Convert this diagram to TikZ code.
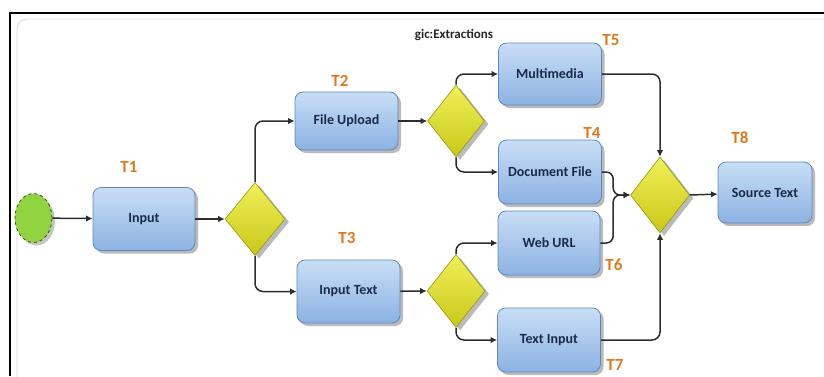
\documentclass[tikz,border=0pt]{standalone}
\usepackage{fontspec}
\setmainfont{Carlito}
\usetikzlibrary{shapes.geometric,shadows,arrows.meta}
\definecolor{boxtop}{RGB}{200,222,246}
\definecolor{boxbot}{RGB}{140,178,226}
\definecolor{boxline}{RGB}{95,135,190}
\definecolor{boxtext}{RGB}{28,42,74}
\definecolor{diatop}{RGB}{240,240,90}
\definecolor{diabot}{RGB}{200,200,25}
\definecolor{dialine}{RGB}{150,150,20}
\definecolor{startfill}{RGB}{145,210,65}
\definecolor{startline}{RGB}{40,90,20}
\definecolor{tcol}{RGB}{226,120,30}
\definecolor{conncol}{RGB}{45,45,45}
\tikzset{
  stepbox/.style={rectangle, rounded corners=8pt, draw=boxline, line width=0.8pt,
    top color=boxtop, bottom color=boxbot,
    drop shadow={shadow xshift=3pt, shadow yshift=-3pt, fill=black!45, opacity=0.6},
    font=\fontsize{14}{16}\selectfont\bfseries, text=boxtext,
    minimum width=103pt, minimum height=62pt, inner sep=0pt},
  gate/.style={diamond, draw=dialine, line width=0.6pt,
    top color=diatop, bottom color=diabot,
    drop shadow={shadow xshift=4pt, shadow yshift=-3pt, fill=black!45, opacity=0.6},
    inner sep=0pt, minimum width=58pt, minimum height=73pt},
  tlab/.style={font=\fontsize{17}{19}\selectfont\bfseries, text=tcol, inner sep=0pt},
  conn/.style={draw=conncol, line width=1.5pt, -{Latex[length=6.5pt,width=6.5pt]}},
}
\begin{document}
\begin{tikzpicture}[x=1pt,y=-1pt]
\useasboundingbox (0,0) rectangle (824,376);
% frame
\draw[black!15, line width=0.8pt, rounded corners=10pt] (17,380) -- (17,19) -- (830,19);
\draw[black, line width=1.8pt] (10,376) -- (10,13) -- (824,13);

% nodes
\node[ellipse, draw=startline, dashed, line width=0.8pt, fill=startfill,
  minimum width=37pt, minimum height=49pt, inner sep=0pt,
  drop shadow={shadow xshift=3pt, shadow yshift=-3pt, fill=black!45, opacity=0.5}] (start) at (33.5,218) {};
\node[stepbox, minimum height=63pt, minimum width=102pt] (input) at (144,219) {Input};
\node[gate, minimum width=60pt] (g1) at (255,219) {};
\node[stepbox, minimum height=58pt] (fu) at (346.5,121) {File Upload};
\node[stepbox, minimum height=63pt] (it) at (348.5,291.5) {Input Text};
\node[gate, minimum width=57pt, minimum height=72pt] (g2) at (456,121) {};
\node[gate] (g3) at (456,291) {};
\node[stepbox] (mm) at (550,74) {Multimedia};
\node[stepbox, minimum height=64pt] (df) at (550,172) {Document File};
\node[stepbox, minimum width=102pt, minimum height=64pt] (wu) at (549,243) {Web URL};
\node[stepbox, minimum height=64pt] (ti) at (549,340) {Text Input};
\node[gate, minimum width=59pt, minimum height=76pt] (gm) at (660,195) {};
\node[stepbox, minimum width=94pt, minimum height=61pt] (st) at (765,192.5) {Source Text};

% labels
\node[tlab] (t1) at (129,167) {T1};
\node[tlab] (t2) at (340,81) {T2};
\node[tlab] (t3) at (347,238) {T3};
\node[tlab] (t4) at (592,133) {T4};
\node[tlab] (t5) at (611,40) {T5};
\node[tlab] (t6) at (614,265) {T6};
\node[tlab] (t7) at (615,365) {T7};
\node[tlab] (t8) at (740,138) {T8};
\node[font=\fontsize{13}{15}\selectfont\bfseries, text=black!85, inner sep=0pt] (gl) at (454,35) {gic:Extractions};

% connectors
\coordinate (mj) at ([xshift=-17pt]gm.west);
\draw[conn] (start) -- (input);
\draw[conn] (input) -- (g1.west);
\draw[conn, rounded corners=8pt] (g1.north) |- (fu.west);
\draw[conn, rounded corners=8pt] (g1.south) |- (it.west);
\draw[conn] (fu) -- (g2.west);
\draw[conn] (it) -- (g3.west);
\draw[conn, rounded corners=8pt] (g2.north) |- (mm.west);
\draw[conn, rounded corners=8pt] (g2.south) |- (df.west);
\draw[conn, rounded corners=8pt] (g3.north) |- (wu.west);
\draw[conn, rounded corners=8pt] (g3.south) |- (ti.west);
\draw[conn, rounded corners=8pt] (mm.east) -| (gm.north);
\draw[conn, rounded corners=8pt] (ti.east) -| (gm.south);
\draw[conn, rounded corners=7pt] (df.east) -| (mj) -- (gm.west);
\draw[conn, rounded corners=7pt] (wu.east) -| (mj) -- (gm.west);
\draw[conn] (gm.east) -- (st);
\end{tikzpicture}
\end{document}
